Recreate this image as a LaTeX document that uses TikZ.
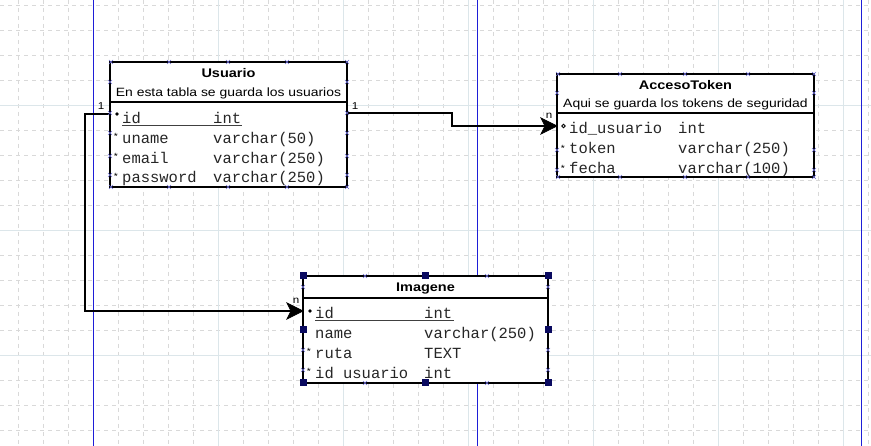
\documentclass[tikz,border=0pt]{standalone}
\usepackage{fontspec}
\usetikzlibrary{arrows.meta,calc}
\newfontfamily\tah[FakeStretch=1.16]{Liberation Sans}
\newfontfamily\mono{Liberation Mono}
\definecolor{gridd}{RGB}{217,217,217}
\definecolor{grids}{RGB}{220,230,234}
\definecolor{pageb}{RGB}{30,30,215}
\definecolor{xmark}{RGB}{106,106,208}
\definecolor{handle}{RGB}{10,10,96}
\begin{document}
\begin{tikzpicture}[x=1pt,y=-1pt,
  tbl/.style={draw=black,line width=2.4pt,fill=white,rectangle,inner sep=0pt,outer sep=0pt},
  ttl/.style={font=\tah\bfseries\fontsize{12.5}{14}\selectfont,anchor=base,inner sep=0pt},
  sub/.style={font=\tah\fontsize{12}{14}\selectfont,anchor=base,inner sep=0pt},
  fld/.style={font=\mono\fontsize{15.5}{18}\selectfont,anchor=base west,inner sep=0pt,text=black!85},
  conn/.style={line width=2.4pt,draw=black},
  headfill/.style={fill=black,draw=black,line width=0.8pt,line join=miter},
  card/.style={font=\tah\fontsize{10}{11}\selectfont,inner sep=0pt,anchor=base},
  ast/.style={font=\tah\fontsize{9}{9}\selectfont,inner sep=0pt},
  sep/.style={line width=2.4pt,draw=black},
  uline/.style={line width=1pt,draw=black!75},
  xm/.style={draw=xmark,line width=0.6pt},
  hdl/.style={fill=handle,draw=none},
]
\useasboundingbox (0,0) rectangle (871,446);
\fill[white] (0,0) rectangle (871,446);
% grid
\foreach \x in {18,43,...,868} \draw[gridd,line width=0.7pt,dash pattern=on 4pt off 4pt] (\x+0.5,0) -- (\x+0.5,446);
\foreach \y in {5,30,...,445} \draw[gridd,line width=0.7pt,dash pattern=on 4pt off 4pt] (0,\y+0.5) -- (871,\y+0.5);
\foreach \x in {218,343,468,593,718,843} \draw[grids,line width=1pt] (\x+0.5,0) -- (\x+0.5,446);
\foreach \y in {105,230,355} \draw[grids,line width=1pt] (0,\y+0.5) -- (871,\y+0.5);
% page lines
\foreach \x in {93,477,861} \draw[draw=pageb,line width=1.5pt] (\x+0.5,0) -- (\x+0.5,446);

% tables
\node[tbl,minimum width=237pt,minimum height=125pt] (usu) at (228.5,124.5) {};
\node[tbl,minimum width=257pt,minimum height=103pt] (acc) at (685.5,125.5) {};
\node[tbl,minimum width=245pt,minimum height=107pt] (img) at (425.5,329.5) {};

% connectors
\coordinate (a1) at ($(usu.north east)+(0,51)$);
\coordinate (a2) at ($(acc.north west)+(0,52)$);
\coordinate (b1) at ($(usu.north west)+(0,52)$);
\coordinate (b2) at ($(img.north west)+(0,35)$);
\draw[conn] (a1) -- ++(105,0) |- (a2);
\draw[conn] (b1) -- ++(-25,0) |- (b2);
\filldraw[headfill] (a2) -- ++(-16,-8) -- ++(4,8) -- ++(-4,8) -- cycle;
\filldraw[headfill] (b2) -- ++(-16,-8) -- ++(4,8) -- ++(-4,8) -- cycle;
\node[card] (c1) at (355,110) {1};
\node[card] (c2) at (549,119) {n};
\node[card] (c3) at (101,110) {1};
\node[card] (c4) at (296,304) {n};

% header separators
\draw[sep] (usu.west |- 0,102) -- (usu.east |- 0,102);
\draw[sep] (acc.west |- 0,113) -- (acc.east |- 0,113);
\draw[sep] (img.west |- 0,298) -- (img.east |- 0,298);

% Usuario
\node[ttl] (ut) at (228.5,78) {Usuario};
\node[sub] (us) at (228.5,97) {En esta tabla se guarda los usuarios};
\node[fld] (u1) at (122,124) {id};
\node[fld] (u1t) at (213,124) {int};
\node[fld] (u2) at (122,144) {uname};
\node[fld] (u2t) at (213,144) {varchar(50)};
\node[fld] (u3) at (122,163.5) {email};
\node[fld] (u3t) at (213,163.5) {varchar(250)};
\node[fld] (u4) at (122,183) {password};
\node[fld] (u4t) at (213,183) {varchar(250)};
\draw[uline] (122,125.5) -- (242,125.5);
\fill (117,114) circle (1.8pt);
\node[ast] at (116,136) {*};
\node[ast] at (116,156) {*};
\node[ast] at (116,176) {*};

% AccesoToken
\node[ttl] (at) at (685.5,90) {AccesoToken};
\node[sub] (as) at (685.5,107.5) {Aqui se guarda los tokens de seguridad};
\node[fld] (a1n) at (569,134) {id\_usuario};
\node[fld] (a1t) at (678,134) {int};
\node[fld] (a2n) at (569,154) {token};
\node[fld] (a2t) at (678,154) {varchar(250)};
\node[fld] (a3n) at (569,173.5) {fecha};
\node[fld] (a3t) at (678,173.5) {varchar(100)};
\draw[black,line width=0.8pt] (563.5,126) circle (1.8pt);
\node[ast] at (563,148) {*};
\node[ast] at (563,168) {*};

% Imagene
\node[ttl] (it) at (425.5,292) {Imagene};
\node[fld] (i1) at (315,319) {id};
\node[fld] (i1t) at (424,319) {int};
\node[fld] (i2) at (315,339) {name};
\node[fld] (i2t) at (424,339) {varchar(250)};
\node[fld] (i3) at (315,359) {ruta};
\node[fld] (i3t) at (424,359) {TEXT};
\node[fld] (i4) at (315,379) {id usuario};
\node[fld] (i4t) at (424,379) {int};
\draw[uline] (315,320.5) -- (454,320.5);
\fill (310,311) circle (1.8pt);
\node[ast] at (309,351) {*};
\node[ast] at (309,371) {*};

% re-draw table borders over text
\draw[line width=2.4pt] (usu.north west) rectangle (usu.south east);
\draw[line width=2.4pt] (acc.north west) rectangle (acc.south east);
\draw[line width=2.4pt] (img.north west) rectangle (img.south east);

% blue cross markers
\foreach \x in {111,169,228,287,347} \foreach \y in {62,187}
  \draw[xm] (\x-2,\y-2) -- (\x+2,\y+2) (\x-2,\y+2) -- (\x+2,\y-2);
\foreach \x in {110,347} \foreach \y in {82,113,133,156,175}
  \draw[xm] (\x-2,\y-2) -- (\x+2,\y+2) (\x-2,\y+2) -- (\x+2,\y-2);
\foreach \x in {558,620,685,748,814} \foreach \y in {74,177}
  \draw[xm] (\x-2,\y-2) -- (\x+2,\y+2) (\x-2,\y+2) -- (\x+2,\y-2);
\foreach \x in {557,814} \foreach \y in {93,150,170}
  \draw[xm] (\x-2,\y-2) -- (\x+2,\y+2) (\x-2,\y+2) -- (\x+2,\y-2);
\foreach \x in {365,487} \foreach \y in {276,383}
  \draw[xm] (\x-2,\y-2) -- (\x+2,\y+2) (\x-2,\y+2) -- (\x+2,\y-2);
\foreach \x in {303,548} \foreach \y in {287,350,370}
  \draw[xm] (\x-2,\y-2) -- (\x+2,\y+2) (\x-2,\y+2) -- (\x+2,\y-2);
% selection handles
\foreach \x/\y in {303/276,425.5/276,548/276,303/330,548/330,303/383,425.5/383,548/383}
  \fill[hdl] (\x-3.5,\y-3.5) rectangle (\x+3.5,\y+3.5);
\end{tikzpicture}
\end{document}
